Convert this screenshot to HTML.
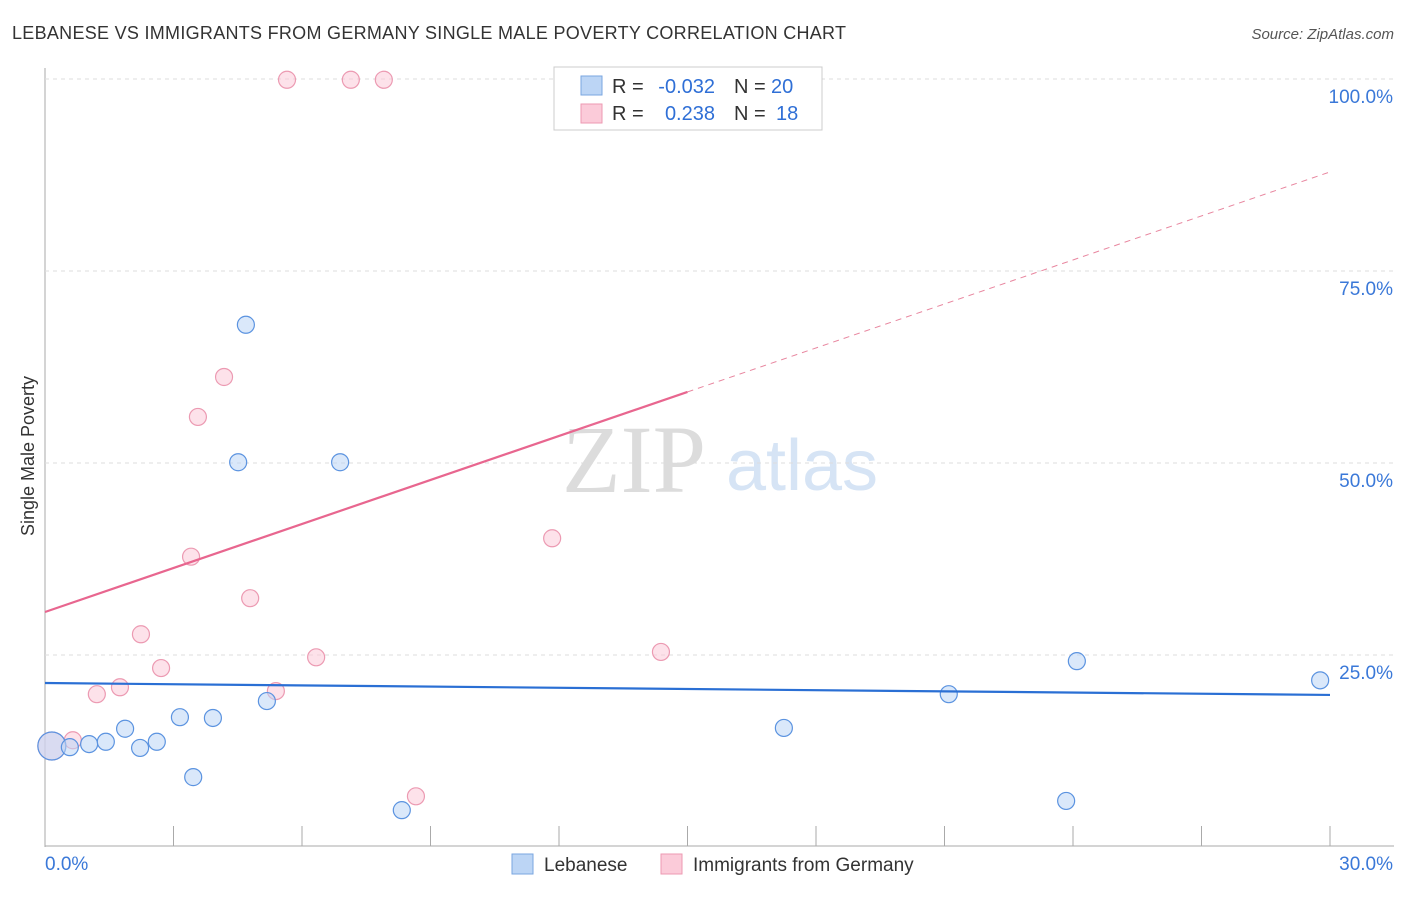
<!DOCTYPE html>
<html><head><meta charset="utf-8"><style>
body{margin:0;background:#fff;font-family:"Liberation Sans",sans-serif;}
</style></head><body>
<svg id="c" width="1406" height="892" xmlns="http://www.w3.org/2000/svg" font-family="Liberation Sans, sans-serif">
<text x="12" y="39" font-size="18" fill="#333" textLength="834">LEBANESE VS IMMIGRANTS FROM GERMANY SINGLE MALE POVERTY CORRELATION CHART</text>
<text x="1394" y="39" font-size="15" fill="#555" text-anchor="end" font-style="italic">Source: ZipAtlas.com</text>
<text x="34" y="456" font-size="18" fill="#333" text-anchor="middle" transform="rotate(-90 34 456)">Single Male Poverty</text>
<text x="634" y="492" font-size="96" fill="#dcdcdc" style="font-family:'Liberation Serif',serif" text-anchor="middle">ZIP</text>
<text x="802" y="490" font-size="72" fill="#d6e4f5" text-anchor="middle">atlas</text>
<g id="grid"></g><g id="marks"></g>
<rect x="554" y="67" width="268" height="63" fill="#fff" stroke="#ccc"/>
<rect x="581" y="76" width="21" height="19" fill="#bcd5f5" stroke="#7aa6e0"/>
<rect x="581" y="104" width="21" height="19" fill="#fbcbd9" stroke="#ec9ab2"/>
<g font-size="20">
<text x="612" y="93" fill="#333">R =</text><text x="715" y="93" fill="#2f6fd6" text-anchor="end">-0.032</text>
<text x="734" y="93" fill="#333">N =</text><text x="771" y="93" fill="#2f6fd6">20</text>
<text x="612" y="120" fill="#333">R =</text><text x="715" y="120" fill="#2f6fd6" text-anchor="end">0.238</text>
<text x="734" y="120" fill="#333">N =</text><text x="776" y="120" fill="#2f6fd6">18</text>
</g>
<rect x="512" y="854" width="21" height="20" fill="#bcd5f5" stroke="#7aa6e0"/>
<text x="544" y="871" font-size="19" fill="#333">Lebanese</text>
<rect x="661" y="854" width="21" height="20" fill="#fbcbd9" stroke="#ec9ab2"/>
<text x="693" y="871" font-size="19" fill="#333">Immigrants from Germany</text>
</svg>
<script>
const xTicks=[0,3,6,9,12,15,18,21,24,27,30];
const yTicks=[25,50,75,100];
const blueX=[0.16,0.58,1.03,1.42,1.87,2.22,2.61,3.15,3.46,3.92,4.51,4.69,5.18,6.89,8.33,17.25,21.1,23.84,24.09,29.77];
const blueY=[13.15,13.0,13.4,13.7,15.4,12.9,13.7,16.9,9.1,16.8,50.1,68.0,19.0,50.1,4.8,15.5,19.9,6.0,24.2,21.7];
const pinkX=[0.16,0.65,1.21,1.75,2.24,2.71,3.41,3.57,4.18,4.79,5.39,5.65,6.33,7.14,7.91,8.66,11.84,14.38];
const pinkY=[13.15,13.9,19.9,20.8,27.7,23.3,37.8,56.0,61.2,32.4,20.3,99.9,24.7,99.9,99.9,6.6,40.2,25.4];
const blueTrend=[21.35,19.8];
const pinkTrend=[30.6,87.9];
const pinkSolidEnd=15;
const NS='http://www.w3.org/2000/svg';
const X=v=>45+v/30*1285, Y=v=>847-v/100*768;
function mk(t,a,p){const e=document.createElementNS(NS,t);for(const k in a)e.setAttribute(k,a[k]);p.appendChild(e);return e;}
const g=document.getElementById('grid'),m=document.getElementById('marks');
let e=mk('line',{x1:45,y1:68,x2:45,y2:847,stroke:'#aaa'},g);


e=mk('line',{x1:45,y1:846,x2:1394,y2:846,stroke:'#aaa'},g);


yTicks.forEach(v=>{
 e=mk('line',{x1:45,y1:Y(v),x2:1394,y2:Y(v),stroke:'#ddd','stroke-dasharray':'4 4'},g);
 
 
 e=mk('text',{x:1393,y:Y(v)+24,'font-size':19,fill:'#3a78d8','text-anchor':'end'},g);e.textContent=v.toFixed(1)+'%';
 
 
});
xTicks.forEach((v,i)=>{
 if(i==0)return;
 e=mk('line',{x1:X(v),y1:826,x2:X(v),y2:846,stroke:'#aaa'},g);
 
 
});
e=mk('text',{x:45,y:870,'font-size':19,fill:'#3a78d8'},g);e.textContent=xTicks[0].toFixed(1)+'%';


e=mk('text',{x:1393,y:870,'font-size':19,fill:'#3a78d8','text-anchor':'end'},g);e.textContent=xTicks[xTicks.length-1].toFixed(1)+'%';


function pts(xs,ys,fill,stroke,name){xs.forEach((x,i)=>{
 const r=i==0?14:8.5;
 e=mk('circle',{cx:X(x),cy:Y(ys[i]),r:r,fill:fill,'fill-opacity':0.55,stroke:stroke,'stroke-width':1.2},m);
 
 
});}
pts(pinkX,pinkY,'#fbcbd9','#ec9ab2','point-germany');
pts(blueX,blueY,'#bcd5f5','#5b93e0','point-lebanese');
e=mk('line',{x1:X(0),y1:Y(blueTrend[0]),x2:X(30),y2:Y(blueTrend[1]),stroke:'#2a6fd4','stroke-width':2.2},m);


const pm=pinkTrend[0]+(pinkTrend[1]-pinkTrend[0])*pinkSolidEnd/30;
e=mk('line',{x1:X(0),y1:Y(pinkTrend[0]),x2:X(pinkSolidEnd),y2:Y(pm),stroke:'#e8668f','stroke-width':2.2},m);


e=mk('line',{x1:X(pinkSolidEnd),y1:Y(pm),x2:X(30),y2:Y(pinkTrend[1]),stroke:'#e8869f','stroke-width':1,'stroke-dasharray':'6 5'},m);


</script>
</body></html>
